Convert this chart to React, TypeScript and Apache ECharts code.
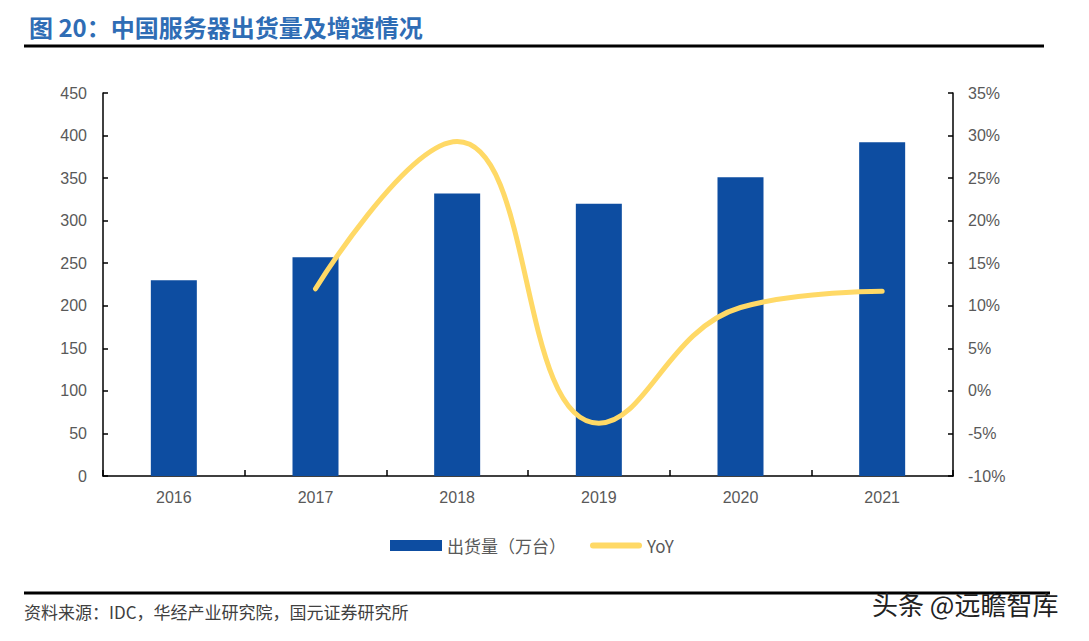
import React, { useEffect, useRef } from "react";
import * as echarts from "echarts";

const categories = ["2016", "2017", "2018", "2019", "2020", "2021"];
const shipments = [230, 257, 332, 320, 351, 392];
const yoy = [null, 12.0, 29.3, -3.8, 9.8, 11.7];
const barName = "出货量（万台）";
const lineName = "YoY";
const titleText = "图 20：中国服务器出货量及增速情况";
const sourceText = "资料来源：IDC，华经产业研究院，国元证券研究所";
const watermark = "头条 @远瞻智库";

export default function App() {
  const ref = useRef<HTMLDivElement>(null);
  useEffect(() => {
    if (!ref.current) return;
    const chart = echarts.init(ref.current, null, { renderer: "svg" });
    const font = "Arial, 'Liberation Sans', 'Noto Sans CJK SC', sans-serif";
    const cjk = "'Noto Sans CJK SC', sans-serif";
    const axisColor = "#595959";
    chart.setOption({
      animation: false,
      backgroundColor: "#fff",
      textStyle: { fontFamily: font },
      title: {
        text: titleText,
        left: 24,
        top: 9,
        textStyle: {
          color: "#2F6DB5",
          fontSize: 24,
          fontWeight: "bold",
          fontFamily: cjk,
        },
      },
      grid: { left: 103, right: 136, top: 93, bottom: 165 },
      legend: {
        left: 385,
        top: 532,
        itemWidth: 52,
        itemHeight: 11,
        itemGap: 24,
        symbolKeepAspect: true,
        textStyle: {
          color: axisColor,
          fontSize: 17,
          fontFamily: cjk,
        },
        data: [
          { name: barName, icon: "rect" },
          {
            name: lineName,
            icon: "path://M3,0 L49,0 A3,3 0 0 1 49,6 L3,6 A3,3 0 0 1 3,0 Z",
          },
        ],
      },
      xAxis: {
        type: "category",
        data: categories,
        axisLine: { lineStyle: { color: "#000", width: 1.5 } },
        axisTick: { show: true, inside: true, length: 6, lineStyle: { color: "#000", width: 1.5 } },
        axisLabel: { color: axisColor, fontSize: 16, margin: 13 },
      },
      yAxis: [
        {
          type: "value",
          min: 0,
          max: 450,
          interval: 50,
          splitLine: { show: false },
          axisLine: { show: true, lineStyle: { color: "#000", width: 1.5 } },
          axisTick: { show: true, inside: true, length: 5, lineStyle: { color: "#000", width: 1.5 } },
          axisLabel: { color: axisColor, fontSize: 16, margin: 16 },
        },
        {
          type: "value",
          min: -10,
          max: 35,
          interval: 5,
          position: "right",
          splitLine: { show: false },
          axisLine: { show: true, lineStyle: { color: "#000", width: 1.5 } },
          axisTick: { show: true, inside: true, length: 5, lineStyle: { color: "#000", width: 1.5 } },
          axisLabel: { color: axisColor, fontSize: 16, margin: 15, formatter: "{value}%" },
        },
      ],
      series: [
        {
          name: barName,
          type: "bar",
          data: shipments,
          barWidth: 46,
          itemStyle: { color: "#0D4DA1" },
          yAxisIndex: 0,
        },
        {
          name: lineName,
          type: "line",
          data: yoy,
          yAxisIndex: 1,
          smooth: 0.45,
          symbol: "none",
          lineStyle: { color: "#FFD966", width: 5, cap: "round" },
          itemStyle: { color: "#FFD966" },
        },
      ],
      graphic: [
        {
          type: "line",
          shape: { x1: 24, y1: 46, x2: 1044, y2: 46 },
          style: { stroke: "#000", lineWidth: 3 },
        },
        {
          type: "line",
          shape: { x1: 24, y1: 593, x2: 1050, y2: 593 },
          style: { stroke: "#000", lineWidth: 3 },
        },
        {
          type: "text",
          left: 24,
          top: 603,
          style: {
            text: sourceText,
            fill: "#404040",
            fontSize: 17,
            fontFamily: cjk,
          },
        },
        {
          type: "text",
          left: 872,
          top: 590,
          style: {
            text: watermark,
            fill: "#222",
            fontSize: 26,
            fontFamily: cjk,
          },
        },
      ],
    });
    return () => chart.dispose();
  }, []);
  return (
    <div
      ref={ref}
      style={{ position: "absolute", left: 0, top: 0, width: 1089, height: 641 }}
    />
  );
}
